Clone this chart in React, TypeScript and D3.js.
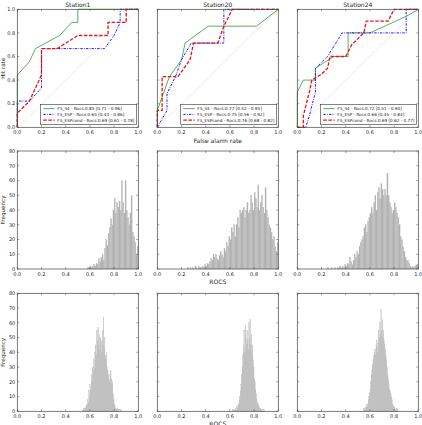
import * as d3 from 'd3'

const stations = ['Station1', 'Station20', 'Station24']

// ROC curves [false alarm rate, hit rate]
const s4Roc = [
  [[0, 0], [0, 0.444], [0.1, 0.556], [0.15, 0.667], [0.35, 0.778], [0.45, 0.889], [0.5, 0.889], [0.5, 1], [1, 1]],
  [[0, 0], [0, 0.143], [0.05, 0.286], [0.1, 0.429], [0.2, 0.571], [0.23, 0.714], [0.42, 0.857], [0.82, 0.857], [1, 1]],
  [[0, 0], [0, 0.3], [0.05, 0.4], [0.15, 0.4], [0.15, 0.5], [0.3, 0.6], [0.42, 0.6], [0.42, 0.8], [0.6, 0.8], [0.9, 0.94], [1, 1]],
]
const espRoc = [
  [[0, 0], [0, 0.222], [0.1, 0.222], [0.2, 0.333], [0.2, 0.667], [0.72, 0.667], [0.8, 0.778], [0.85, 0.889], [0.85, 1], [1, 1]],
  [[0, 0], [0.08, 0.143], [0.08, 0.286], [0.15, 0.429], [0.2, 0.571], [0.28, 0.714], [0.55, 0.714], [0.55, 1], [1, 1]],
  [[0, 0], [0.07, 0], [0.1, 0.1], [0.15, 0.3], [0.15, 0.5], [0.25, 0.6], [0.37, 0.8], [0.9, 0.8], [0.9, 1], [1, 1]],
]
const espCondRoc = [
  [[0, 0], [0, 0.12], [0.1, 0.222], [0.2, 0.444], [0.2, 0.667], [0.33, 0.667], [0.5, 0.778], [0.75, 0.778], [0.75, 0.889], [0.9, 0.889], [0.9, 1], [1, 1]],
  [[0, 0], [0, 0.143], [0.04, 0.143], [0.04, 0.429], [0.17, 0.429], [0.27, 0.571], [0.3, 0.714], [0.5, 0.714], [0.55, 0.857], [0.62, 1], [1, 1]],
  [[0, 0], [0.05, 0], [0.05, 0.1], [0.1, 0.3], [0.12, 0.4], [0.2, 0.45], [0.25, 0.5], [0.27, 0.6], [0.4, 0.6], [0.45, 0.7], [0.55, 0.8], [0.57, 0.9], [0.75, 0.9], [0.8, 1], [1, 1]],
]

const s4Legend = ['FS_S4 - Rocs:0.85 [0.71 - 0.96]', 'FS_S4 - Rocs:0.77 [0.52 - 0.95]', 'FS_S4 - Rocs:0.72 [0.51 - 0.90]']
const espLegend = ['FS_ESP - Rocs:0.65 [0.43 - 0.86]', 'FS_ESP - Rocs:0.75 [0.56 - 0.92]', 'FS_ESP - Rocs:0.66 [0.45 - 0.84]']
const espCondLegend = ['FS_ESPcond - Rocs:0.69 [0.61 - 0.78]', 'FS_ESPcond - Rocs:0.76 [0.68 - 0.82]', 'FS_ESPcond - Rocs:0.69 [0.62 - 0.77]']

// bootstrap histograms of ROCS (FS_S4), bins of 0.01
const s4HistStart = [0.57, 0.25, 0.25]
const s4HistWidth = 0.01
const s4Hist = [
  [0, 1, 1, 2, 1, 2, 3, 2, 4, 3, 7, 5, 8, 10, 6, 14, 20, 16, 24, 28, 34, 30, 40, 48, 38, 45, 42, 46, 40, 60, 45, 38, 60, 40, 35, 30, 38, 50, 25, 22, 18, 10, 15],
  [1, 0, 1, 0, 1, 0, 2, 1, 0, 2, 1, 1, 2, 1, 3, 2, 4, 3, 5, 7, 6, 10, 8, 10, 7, 6, 9, 12, 10, 8, 14, 12, 18, 15, 22, 20, 28, 25, 30, 22, 30, 35, 28, 40, 38, 40, 42, 35, 40, 45, 38, 40, 50, 45, 40, 52, 48, 42, 57, 40, 45, 50, 42, 38, 55, 40, 35, 30, 28, 25, 20, 22, 15, 12, 18],
  [1, 0, 0, 1, 0, 0, 1, 0, 1, 1, 2, 1, 2, 1, 3, 2, 4, 3, 8, 5, 3, 6, 10, 8, 12, 10, 15, 18, 20, 22, 28, 30, 25, 32, 35, 38, 42, 38, 45, 50, 40, 52, 55, 48, 58, 54, 50, 54, 50, 65, 50, 45, 42, 38, 40, 45, 42, 38, 35, 30, 22, 20, 15, 12, 8, 6, 6, 4, 2, 1, 2, 1, 2, 3, 3],
]

// bootstrap histograms of ROCS (FS_ESPcond), bins of 0.005
const condHistStart = [0.535, 0.62, 0.545]
const condHistWidth = 0.005
const condHist = [
  [1, 0, 2, 1, 2, 3, 2, 5, 4, 8, 6, 14, 10, 18, 15, 25, 20, 30, 28, 35, 30, 40, 45, 38, 55, 48, 57, 45, 52, 42, 50, 48, 40, 55, 45, 64, 42, 50, 38, 35, 40, 30, 28, 25, 22, 20, 25, 28, 22, 18, 20, 12, 8, 5, 4, 2, 2, 1, 2, 1, 1, 0, 1, 0, 1],
  [1, 0, 1, 1, 0, 2, 1, 3, 2, 4, 5, 8, 10, 14, 18, 25, 30, 38, 45, 55, 40, 58, 50, 45, 55, 48, 42, 60, 50, 62, 45, 52, 40, 45, 35, 30, 22, 20, 15, 12, 8, 6, 5, 4, 3, 2, 2, 1, 1, 0, 1, 0, 1],
  [1, 2, 1, 3, 2, 4, 5, 3, 8, 10, 12, 15, 20, 25, 28, 32, 35, 38, 40, 42, 38, 45, 48, 40, 46, 55, 50, 60, 52, 69, 55, 62, 50, 55, 48, 45, 42, 38, 35, 30, 25, 22, 18, 15, 14, 12, 10, 8, 5, 4, 3, 3, 2, 1, 1, 2, 0, 1],
]

const unitTicks = [0, 0.2, 0.4, 0.6, 0.8, 1.0]
const freqTicks = [0, 10, 20, 30, 40, 50, 60, 70, 80]

const colLeft = [17.3, 157.3, 297.3]
const rowTop = [9.3, 151, 293.3]
const pw = 121
const ph = 118
const font = 'DejaVu Sans, sans-serif'
const frame = '#444'

const x = d3.scaleLinear().domain([0, 1]).range([0, pw])
const yRoc = d3.scaleLinear().domain([0, 1]).range([ph, 0])
const yFreq = d3.scaleLinear().domain([0, 80]).range([ph, 0])
const line = d3.line<number[]>().x((d) => x(d[0])).y((d) => yRoc(d[1]))

function Frame({ y, yTicks, fmt, showY }) {
  const t = 2
  return (
    <g>
      {unitTicks.map((v) => (
        <g key={'x' + v} stroke={frame} strokeWidth={0.5}>
          <line x1={x(v)} x2={x(v)} y1={ph} y2={ph - t} />
          <line x1={x(v)} x2={x(v)} y1={0} y2={t} />
        </g>
      ))}
      {yTicks.map((v) => (
        <g key={'y' + v} stroke={frame} strokeWidth={0.5}>
          <line x1={0} x2={t} y1={y(v)} y2={y(v)} />
          <line x1={pw} x2={pw - t} y1={y(v)} y2={y(v)} />
        </g>
      ))}
      <rect width={pw} height={ph} fill="none" stroke={frame} strokeWidth={0.7} />
      {unitTicks.map((v) => (
        <text key={'xl' + v} x={x(v)} y={ph + 6.6} fontSize={5} textAnchor="middle" fill="#222">
          {v.toFixed(1)}
        </text>
      ))}
      {showY &&
        yTicks.map((v) => (
          <text key={'yl' + v} x={-2} y={y(v) + 1.8} fontSize={5} textAnchor="end" fill="#222">
            {fmt(v)}
          </text>
        ))}
    </g>
  )
}

function RocPanel({ i }) {
  const lx = pw - 97.6
  const ly = ph - 22.7
  const items = [
    { label: s4Legend[i], color: '#2e9a2e', dash: null, w: 0.8 },
    { label: espLegend[i], color: '#1a1aff', dash: '2.4,1.2,0.8,1.2', w: 1 },
    { label: espCondLegend[i], color: '#ee1111', dash: '3.5,1.6', w: 1.3 },
  ]
  return (
    <g transform={`translate(${colLeft[i]},${rowTop[0]})`}>
      <rect width={pw} height={ph} fill="#fff" />
      <line x1={x(0)} y1={yRoc(0)} x2={x(1)} y2={yRoc(1)} stroke="#999" strokeWidth={0.4} strokeDasharray="0.8,0.8" />
      <path d={line(s4Roc[i])} fill="none" stroke={items[0].color} strokeWidth={items[0].w} />
      <path d={line(espRoc[i])} fill="none" stroke={items[1].color} strokeWidth={items[1].w} strokeDasharray={items[1].dash} />
      <path d={line(espCondRoc[i])} fill="none" stroke={items[2].color} strokeWidth={items[2].w} strokeDasharray={items[2].dash} />
      <Frame y={yRoc} yTicks={unitTicks} fmt={(v) => v.toFixed(1)} showY={i === 0} />
      <rect x={lx} y={ly} width={96} height={20} fill="#fff" stroke="#333" strokeWidth={0.6} />
      {items.map((it, k) => (
        <g key={k} transform={`translate(${lx},${ly + 4 + k * 5.8})`}>
          <line x1={2.6} x2={14} y1={0} y2={0} stroke={it.color} strokeWidth={it.w} strokeDasharray={it.dash || undefined} />
          <text x={16.6} y={1.4} fontSize={4.2} fill="#222">
            {it.label}
          </text>
        </g>
      ))}
      <text x={pw / 2} y={-2.4} fontSize={6} textAnchor="middle" fill="#222">
        {stations[i]}
      </text>
      {i === 0 && (
        <text transform={`translate(-12.5,${ph / 2}) rotate(-90)`} fontSize={5.6} textAnchor="middle" fill="#222">
          Hit rate
        </text>
      )}
      {i === 1 && (
        <text x={pw / 2} y={ph + 16} fontSize={6} textAnchor="middle" fill="#222">
          False alarm rate
        </text>
      )}
    </g>
  )
}

function HistPanel({ i, row, counts, start, width }) {
  const bw = x(width) - x(0)
  return (
    <g transform={`translate(${colLeft[i]},${rowTop[row]})`}>
      <rect width={pw} height={ph} fill="#fff" />
      {counts.map((c, k) =>
        c > 0 ? (
          <rect
            key={k}
            x={x(start + k * width)}
            y={yFreq(c)}
            width={bw}
            height={ph - yFreq(c)}
            fill="#b0b0b0"
            stroke="#c4c4c4"
            strokeWidth={0.2}
          />
        ) : null,
      )}
      <Frame y={yFreq} yTicks={freqTicks} fmt={(v) => String(v)} showY={i === 0} />
      {i === 0 && (
        <text transform={`translate(-12.5,${ph / 2}) rotate(-90)`} fontSize={5.6} textAnchor="middle" fill="#222">
          Frequency
        </text>
      )}
      {i === 1 && (
        <text x={pw / 2} y={ph + 15} fontSize={6} textAnchor="middle" fill="#222">
          ROCS
        </text>
      )}
    </g>
  )
}

export default function App() {
  return (
    <svg
      width={422}
      height={425}
      style={{ position: 'absolute', left: 0, top: 0, background: '#fff' }}
      fontFamily={font}
    >
      <rect width={422} height={425} fill="#fff" />
      {stations.map((s, i) => (
        <RocPanel key={'r' + s} i={i} />
      ))}
      {stations.map((s, i) => (
        <HistPanel key={'h' + s} i={i} row={1} counts={s4Hist[i]} start={s4HistStart[i]} width={s4HistWidth} />
      ))}
      {stations.map((s, i) => (
        <HistPanel key={'c' + s} i={i} row={2} counts={condHist[i]} start={condHistStart[i]} width={condHistWidth} />
      ))}
    </svg>
  )
}
